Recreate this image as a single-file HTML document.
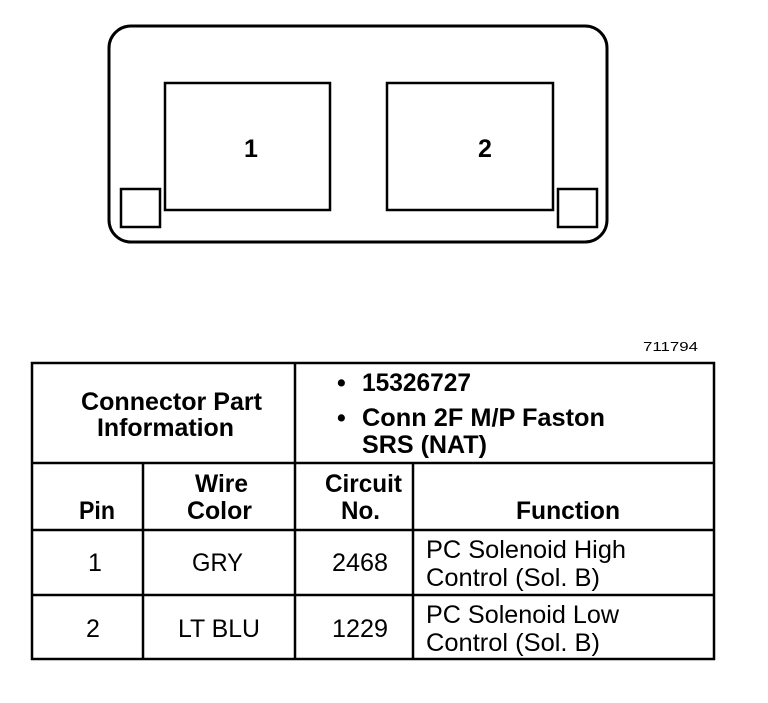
<!DOCTYPE html>
<html><head><style>
html,body{margin:0;padding:0;background:#fff;}
svg text{font-family:"Liberation Sans",Arial,sans-serif;fill:#000;}
.b{font-weight:bold;}
</style></head><body>
<svg width="768" height="698" viewBox="0 0 768 698" xmlns="http://www.w3.org/2000/svg">
<rect x="109" y="26" width="498" height="216" rx="22" fill="none" stroke="#000" stroke-width="3"/>
<rect x="165" y="83" width="165" height="127" fill="none" stroke="#000" stroke-width="2.5"/>
<rect x="387" y="83" width="166" height="127" fill="none" stroke="#000" stroke-width="2.5"/>
<rect x="121" y="189" width="39" height="38" fill="none" stroke="#000" stroke-width="2.5"/>
<rect x="558" y="189" width="39" height="38" fill="none" stroke="#000" stroke-width="2.5"/>
<text x="251" y="157" font-size="25" class="b" text-anchor="middle">1</text>
<text x="485" y="157" font-size="25" class="b" text-anchor="middle">2</text>
<text x="643" y="351" font-size="13" textLength="55" lengthAdjust="spacingAndGlyphs">711794</text>
<g stroke="#000" stroke-width="2.5" fill="none">
<rect x="32" y="363" width="682" height="296"/>
<line x1="32" y1="463" x2="714" y2="463"/>
<line x1="32" y1="530" x2="714" y2="530"/>
<line x1="32" y1="595" x2="714" y2="595"/>
<line x1="295" y1="363" x2="295" y2="659"/>
<line x1="143" y1="463" x2="143" y2="659"/>
<line x1="413" y1="463" x2="413" y2="659"/>
</g>
<g font-size="25" class="b">
<text x="81" y="410" textLength="181" lengthAdjust="spacingAndGlyphs">Connector Part</text>
<text x="97" y="436" textLength="137" lengthAdjust="spacingAndGlyphs">Information</text>
<text x="337" y="391">•</text><text x="362" y="391" textLength="109" lengthAdjust="spacingAndGlyphs">15326727</text>
<text x="337" y="426">•</text><text x="362" y="426" textLength="243" lengthAdjust="spacingAndGlyphs">Conn 2F M/P Faston</text>
<text x="362" y="453" textLength="125" lengthAdjust="spacingAndGlyphs">SRS (NAT)</text>
<text x="79" y="519" textLength="36" lengthAdjust="spacingAndGlyphs">Pin</text>
<text x="195" y="492" textLength="53" lengthAdjust="spacingAndGlyphs">Wire</text>
<text x="187" y="519" textLength="65" lengthAdjust="spacingAndGlyphs">Color</text>
<text x="325" y="492" textLength="77" lengthAdjust="spacingAndGlyphs">Circuit</text>
<text x="341" y="519" textLength="39" lengthAdjust="spacingAndGlyphs">No.</text>
<text x="516" y="519" textLength="104" lengthAdjust="spacingAndGlyphs">Function</text>
</g>
<g font-size="25">
<text x="95" y="571" text-anchor="middle">1</text>
<text x="192" y="571" textLength="51" lengthAdjust="spacingAndGlyphs">GRY</text>
<text x="332" y="571" textLength="56" lengthAdjust="spacingAndGlyphs">2468</text>
<text x="426" y="558" textLength="200" lengthAdjust="spacingAndGlyphs">PC Solenoid High</text>
<text x="426" y="586" textLength="174" lengthAdjust="spacingAndGlyphs">Control (Sol. B)</text>
<text x="93" y="637" text-anchor="middle">2</text>
<text x="178" y="637" textLength="82" lengthAdjust="spacingAndGlyphs">LT BLU</text>
<text x="332" y="637" textLength="56" lengthAdjust="spacingAndGlyphs">1229</text>
<text x="426" y="623" textLength="193" lengthAdjust="spacingAndGlyphs">PC Solenoid Low</text>
<text x="426" y="651" textLength="174" lengthAdjust="spacingAndGlyphs">Control (Sol. B)</text>
</g>
</svg>
</body></html>
